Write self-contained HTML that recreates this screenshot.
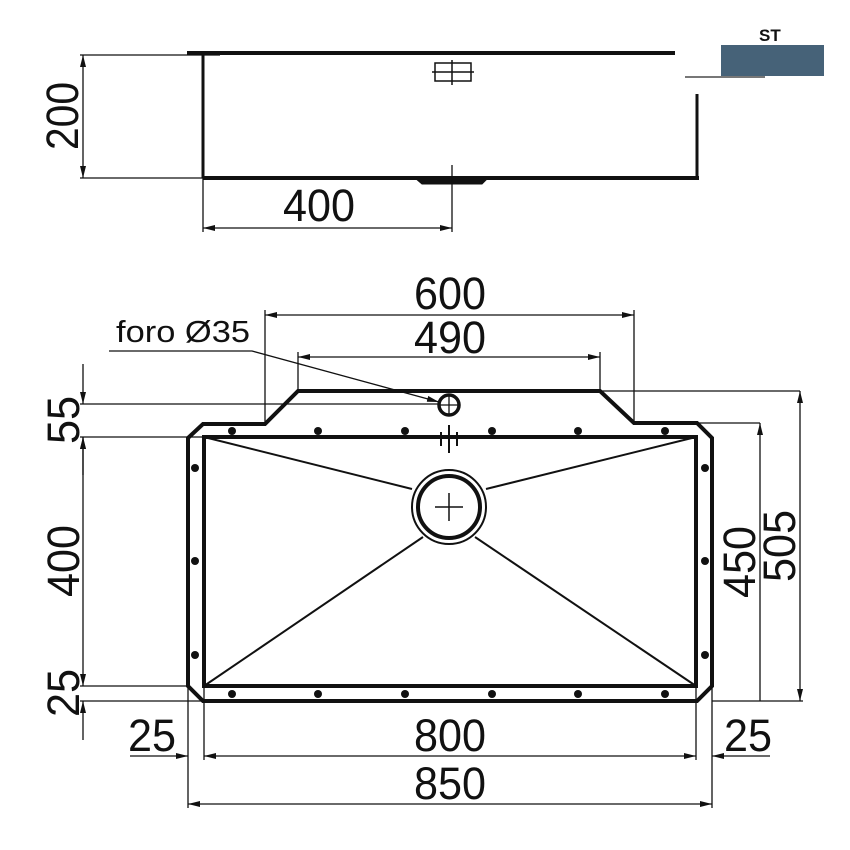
<!DOCTYPE html>
<html><head><meta charset="utf-8"><style>
html,body{margin:0;padding:0;background:#fff;}
svg{display:block;}
text{font-family:"Liberation Sans",sans-serif;fill:#111;}
.n{font-size:45px;}
</style></head><body>
<svg width="850" height="850" viewBox="0 0 850 850" xmlns="http://www.w3.org/2000/svg">
<defs>
<marker id="a" viewBox="0 0 12 6" refX="12" refY="3" markerWidth="12" markerHeight="6" orient="auto-start-reverse" markerUnits="userSpaceOnUse"><path d="M0,0 L12,3 L0,6 z" fill="#111"/></marker>
</defs>
<g stroke="#111" fill="none">
<line x1="187" y1="53" x2="675" y2="53" stroke-width="4"/>
<line x1="203" y1="53" x2="203" y2="178" stroke-width="3"/>
<line x1="203" y1="178" x2="699" y2="178" stroke-width="4"/>
<line x1="697" y1="94" x2="697" y2="179" stroke-width="3"/>
<line x1="685" y1="77" x2="765" y2="77" stroke-width="2" stroke="#777"/>
<path d="M415,178 L422,184 L482,184 L488,178 z" fill="#111" stroke-width="1"/>
<line x1="452" y1="165" x2="452" y2="232" stroke-width="1.3"/>
<rect x="435" y="63" width="36" height="18" stroke-width="1.5"/>
<line x1="432" y1="72" x2="474" y2="72" stroke-width="1.5"/>
<line x1="452" y1="60" x2="452" y2="85" stroke-width="1.5"/>
<g stroke-width="1.3">
<line x1="80" y1="55" x2="220" y2="55"/>
<line x1="80" y1="178" x2="203" y2="178"/>
<line x1="83" y1="55" x2="83" y2="178" marker-start="url(#a)" marker-end="url(#a)"/>
<line x1="203" y1="178" x2="203" y2="232"/>
<line x1="203" y1="228" x2="452" y2="228" marker-start="url(#a)" marker-end="url(#a)"/>
</g>
</g>
<rect x="721" y="45" width="103" height="31" fill="#466278"/>
<text x="759" y="41" style="font-size:17px;font-weight:bold">ST</text>
<text class="n" x="283" y="221" textLength="72" lengthAdjust="spacingAndGlyphs">400</text>
<text class="n" transform="translate(78,116) rotate(-90)" x="-34" textLength="68" lengthAdjust="spacingAndGlyphs">200</text>

<g stroke="#111" fill="none">
<path d="M188,438 L203,424 L265,424 L298,391 L600,391 L634,423 L697,423 L712,438 L712,686 L697,701 L203,701 L188,686 Z" stroke-width="4"/>
<rect x="204" y="437" width="492" height="249" stroke-width="4"/>
<g stroke-width="2">
<line x1="204" y1="437" x2="412" y2="489"/>
<line x1="696" y1="437" x2="486" y2="489"/>
<line x1="204" y1="686" x2="423" y2="537"/>
<line x1="696" y1="686" x2="475" y2="537"/>
</g>
<circle cx="449" cy="507" r="37" stroke-width="2" fill="#fff"/>
<circle cx="449" cy="507" r="31" stroke-width="4"/>
<line x1="435" y1="507" x2="463" y2="507" stroke-width="1.5"/>
<line x1="449" y1="493" x2="449" y2="521" stroke-width="1.5"/>
<circle cx="449" cy="405" r="10" stroke-width="3.5"/>
<line x1="440" y1="405" x2="458" y2="405" stroke-width="1.3"/>
<line x1="449" y1="396" x2="449" y2="414" stroke-width="1.3"/>
<line x1="449" y1="425" x2="449" y2="453" stroke-width="2"/>
<line x1="441" y1="432" x2="441" y2="446" stroke-width="2"/>
<line x1="457" y1="432" x2="457" y2="446" stroke-width="2"/>
<g stroke-width="1.3">
<polyline points="109,351 252,351 439,402" marker-end="url(#a)"/>
<line x1="265" y1="310" x2="265" y2="424"/>
<line x1="634" y1="310" x2="634" y2="423"/>
<line x1="265" y1="315" x2="634" y2="315" marker-start="url(#a)" marker-end="url(#a)"/>
<line x1="298" y1="352" x2="298" y2="391"/>
<line x1="600" y1="352" x2="600" y2="391"/>
<line x1="298" y1="357" x2="600" y2="357" marker-start="url(#a)" marker-end="url(#a)"/>
<line x1="80" y1="404" x2="440" y2="404"/>
<line x1="80" y1="437" x2="204" y2="437"/>
<line x1="80" y1="686" x2="188" y2="686"/>
<line x1="80" y1="701" x2="203" y2="701"/>
<line x1="83" y1="364" x2="83" y2="404" marker-end="url(#a)"/>
<line x1="83" y1="437" x2="83" y2="686" marker-start="url(#a)" marker-end="url(#a)"/>
<line x1="83" y1="740" x2="83" y2="701" marker-end="url(#a)"/>
<line x1="83" y1="475" x2="83" y2="437" marker-end="url(#a)"/>
<line x1="697" y1="423" x2="760" y2="423"/>
<line x1="600" y1="391" x2="800" y2="391"/>
<line x1="712" y1="701" x2="803" y2="701"/>
<line x1="760" y1="701" x2="760" y2="423" marker-end="url(#a)"/>
<line x1="800" y1="701" x2="800" y2="391" marker-start="url(#a)" marker-end="url(#a)"/>
<line x1="188" y1="686" x2="188" y2="808"/>
<line x1="204" y1="686" x2="204" y2="760"/>
<line x1="696" y1="686" x2="696" y2="760"/>
<line x1="712" y1="686" x2="712" y2="808"/>
<line x1="204" y1="756" x2="696" y2="756" marker-start="url(#a)" marker-end="url(#a)"/>
<line x1="130" y1="756" x2="188" y2="756" marker-end="url(#a)"/>
<line x1="770" y1="756" x2="712" y2="756" marker-end="url(#a)"/>
<line x1="188" y1="804" x2="712" y2="804" marker-start="url(#a)" marker-end="url(#a)"/>
</g>
</g>
<g fill="#111">
<circle cx="232" cy="431" r="4"/><circle cx="318" cy="431" r="4"/><circle cx="405" cy="431" r="4"/><circle cx="492" cy="431" r="4"/><circle cx="578" cy="431" r="4"/><circle cx="665" cy="431" r="4"/>
<circle cx="232" cy="694" r="4"/><circle cx="318" cy="694" r="4"/><circle cx="405" cy="694" r="4"/><circle cx="492" cy="694" r="4"/><circle cx="578" cy="694" r="4"/><circle cx="665" cy="694" r="4"/>
<circle cx="195" cy="468" r="4"/><circle cx="195" cy="561" r="4"/><circle cx="195" cy="655" r="4"/>
<circle cx="705" cy="468" r="4"/><circle cx="705" cy="561" r="4"/><circle cx="705" cy="655" r="4"/>
</g>
<text x="116" y="342" style="font-size:31px" textLength="134" lengthAdjust="spacingAndGlyphs">foro Ø35</text>
<text class="n" x="414" y="309" textLength="72" lengthAdjust="spacingAndGlyphs">600</text>
<text class="n" x="414" y="353" textLength="72" lengthAdjust="spacingAndGlyphs">490</text>
<text class="n" x="414" y="751" textLength="72" lengthAdjust="spacingAndGlyphs">800</text>
<text class="n" x="414" y="799" textLength="72" lengthAdjust="spacingAndGlyphs">850</text>
<text class="n" x="128" y="751" textLength="48" lengthAdjust="spacingAndGlyphs">25</text>
<text class="n" x="724" y="751" textLength="48" lengthAdjust="spacingAndGlyphs">25</text>
<text class="n" transform="translate(79,420) rotate(-90)" x="-24" textLength="48" lengthAdjust="spacingAndGlyphs">55</text>
<text class="n" transform="translate(79,561) rotate(-90)" x="-36" textLength="72" lengthAdjust="spacingAndGlyphs">400</text>
<text class="n" transform="translate(79,693) rotate(-90)" x="-24" textLength="48" lengthAdjust="spacingAndGlyphs">25</text>
<text class="n" transform="translate(755,562) rotate(-90)" x="-36" textLength="72" lengthAdjust="spacingAndGlyphs">450</text>
<text class="n" transform="translate(795,546) rotate(-90)" x="-36" textLength="72" lengthAdjust="spacingAndGlyphs">505</text>
</svg>
</body></html>
